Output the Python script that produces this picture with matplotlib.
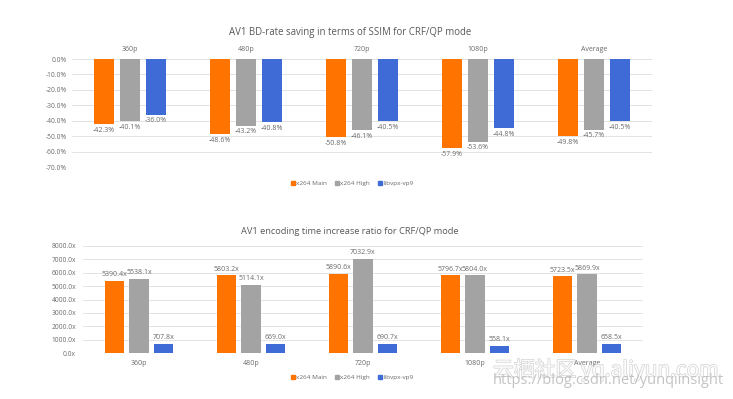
import matplotlib
matplotlib.use("Agg")
import matplotlib.pyplot as plt
from matplotlib.lines import Line2D
import matplotlib.patheffects as pe
import numpy as np

plt.rcParams['font.family'] = ['Open Sans', 'DejaVu Sans']

categories = ["360p", "480p", "720p", "1080p", "Average"]
series_names = ["x264 Main", "x264 High", "libvpx-vp9"]
colors = ["#FF7300", "#A3A3A3", "#3F6BD6"]

bd_main = [-42.3, -48.6, -50.8, -57.9, -49.8]
bd_high = [-40.1, -43.2, -46.1, -53.6, -45.7]
bd_vp9 = [-36.0, -40.8, -40.5, -44.8, -40.5]

time_main = [5390.4, 5803.2, 5890.6, 5796.7, 5723.5]
time_high = [5538.1, 5114.1, 7032.9, 5804.0, 5869.9]
time_vp9 = [707.8, 669.0, 690.7, 558.1, 658.5]

bd_ticks = [0, -10, -20, -30, -40, -50, -60, -70]
time_ticks = [0, 1000, 2000, 3000, 4000, 5000, 6000, 7000, 8000]

W, H = 733, 399
fig = plt.figure(figsize=(W / 100, H / 100), dpi=100)
fig.patch.set_facecolor("white")

txt = "#6b6b6b"
grid = "#e3e3e3"

def axes_px(x0, y_top, x1, y_bot):
    return fig.add_axes([x0 / W, 1 - y_bot / H, (x1 - x0) / W, (y_bot - y_top) / H])

x = np.arange(len(categories))

# ---- Top chart ----
ax1 = axes_px(72, 59, 652, 167)
bw, step = 0.172, 0.224
for i, (vals, c) in enumerate(zip([bd_main, bd_high, bd_vp9], colors)):
    bars = ax1.bar(x + (i - 1) * step, vals, width=bw, color=c, zorder=3)
    ax1.bar_label(bars, labels=[f"{v:.1f}%" for v in vals], padding=2,
                  fontsize=5, color=txt)
ax1.set_xlim(-0.5, len(categories) - 0.5)
ax1.set_ylim(-70, 0)
ax1.set_yticks(bd_ticks)
ax1.set_yticklabels([f"{t:.1f}%" for t in bd_ticks], fontsize=4.8, color=txt)
ax1.yaxis.grid(True, color=grid, linewidth=0.7, zorder=0)
ax1.xaxis.tick_top()
ax1.set_xticks(x)
ax1.set_xticklabels(categories, fontsize=5, color=txt)
ax1.tick_params(length=0, pad=4)
for s in ax1.spines.values():
    s.set_visible(False)
fig.text(350 / W, 1 - 33 / H, "AV1 BD-rate saving in terms of SSIM for CRF/QP mode",
         ha="center", va="center", fontsize=6.9, color="#595959")
handles = [Line2D([], [], marker="s", linestyle="", color=c, markersize=2.8) for c in colors]
fig.legend(handles, series_names, loc="center", bbox_to_anchor=(352 / W, 1 - 183 / H),
           ncol=3, frameon=False, fontsize=4.6, labelcolor=txt, handletextpad=0.1,
           columnspacing=1.2, handlelength=0.8)

# ---- Bottom chart ----
ax2 = axes_px(83, 246, 643, 353)
bw2, step2 = 0.175, 0.22
for i, (vals, c) in enumerate(zip([time_main, time_high, time_vp9], colors)):
    bars = ax2.bar(x + (i - 1) * step2, vals, width=bw2, color=c, zorder=3)
    ax2.bar_label(bars, labels=[f"{v:.1f}x" for v in vals], padding=2,
                  fontsize=5, color=txt)
ax2.set_xlim(-0.5, len(categories) - 0.5)
ax2.set_ylim(0, 8000)
ax2.set_yticks(time_ticks)
ax2.set_yticklabels([f"{t:.1f}x" for t in time_ticks], fontsize=4.8, color=txt)
ax2.yaxis.grid(True, color=grid, linewidth=0.7, zorder=0)
ax2.set_xticks(x)
ax2.set_xticklabels(categories, fontsize=5, color=txt)
ax2.tick_params(length=0, pad=5)
for s in ax2.spines.values():
    s.set_visible(False)
ax2.axhline(0, color="#d0d0d0", linewidth=0.7, zorder=2)
fig.text(350 / W, 1 - 232 / H, "AV1 encoding time increase ratio for CRF/QP mode",
         ha="center", va="center", fontsize=6.7, color="#595959")
fig.legend(handles, series_names, loc="center", bbox_to_anchor=(352 / W, 1 - 377 / H),
           ncol=3, frameon=False, fontsize=4.6, labelcolor=txt, handletextpad=0.1,
           columnspacing=1.2, handlelength=0.8)

# ---- Watermark ----
wm1 = fig.text(493 / W, 1 - 370 / H, "云栖社区 yq.aliyun.com", ha="left", va="center",
               fontsize=15, color="white", alpha=0.9,
               family=["Noto Sans CJK SC", "DejaVu Sans"])
wm1.set_path_effects([pe.withStroke(linewidth=1.0, foreground="#cfcfcf")])
wm2 = fig.text(493 / W, 1 - 381 / H, "https://blog.csdn.net/yunqiinsight", ha="left",
               va="center", fontsize=10.5, color="#bdbdbd", alpha=0.9)

fig.savefig("out.png", dpi=100, facecolor="white")
